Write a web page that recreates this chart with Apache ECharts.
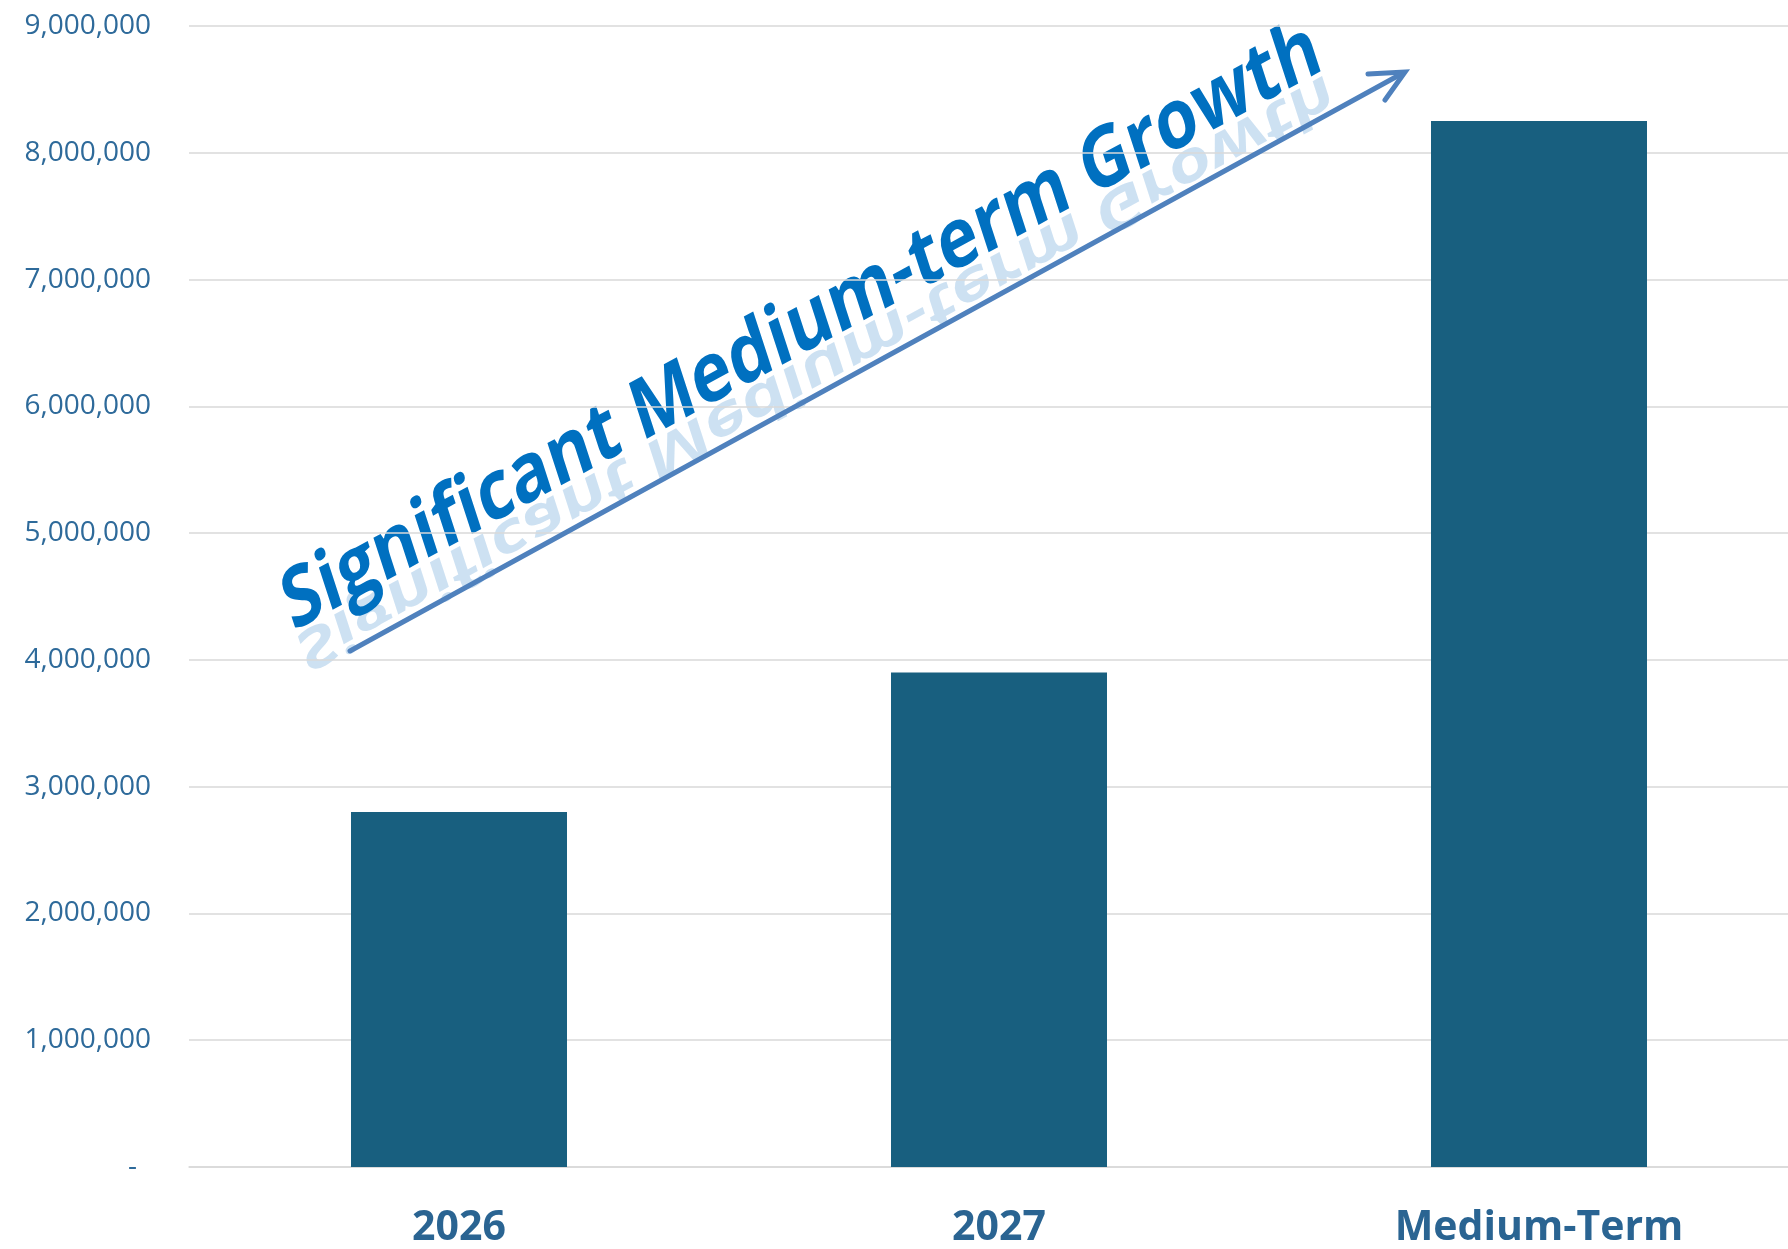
<!DOCTYPE html>
<html>
<head>
<meta charset="utf-8">
<script src="https://cdn.jsdelivr.net/npm/echarts@6/dist/echarts.min.js"></script>
<style>
html,body{margin:0;padding:0;background:#fff;overflow:hidden;width:1788px;height:1249px;}
#chart{width:1809px;height:1249px;}
</style>
</head>
<body>
<div id="chart"></div>
<script>
const categories = ['2026', '2027', 'Medium-Term'];
const values = [2800000, 3900000, 8250000];
const yTicks = [0, 1000000, 2000000, 3000000, 4000000, 5000000, 6000000, 7000000, 8000000, 9000000];
const annotationText = 'Significant Medium-term Growth';

const chart = echarts.init(document.getElementById('chart'), null, {renderer: 'canvas'});
const rot = 28.6 * Math.PI / 180;
const skew = Math.atan(-0.1871);
const fmt = v => v === 0 ? '{d|-}' : v.toLocaleString('en-US');
const textFont = 'bold 71.5px "Open Sans"';

chart.setOption({
  animation: false,
  backgroundColor: '#ffffff',
  grid: {left: 189, top: 26, right: 0, height: 1141, containLabel: false},
  xAxis: {
    type: 'category',
    data: categories,
    axisLine: {lineStyle: {color: '#D9D9D9', width: 1.5}},
    axisTick: {show: false},
    axisLabel: {
      color: '#2A6492', fontFamily: 'Open Sans', fontWeight: 'bold', fontSize: 41, margin: 41
    }
  },
  yAxis: {
    type: 'value',
    min: yTicks[0], max: yTicks[yTicks.length - 1], interval: yTicks[1] - yTicks[0],
    axisLine: {show: false},
    axisTick: {show: false},
    splitLine: {lineStyle: {color: '#D9D9D9', width: 1.5}},
    axisLabel: {
      formatter: fmt, color: '#2E6A9A', fontFamily: 'Open Sans', fontSize: 28, margin: 38,
      rich: {d: {color: '#2E6A9A', fontFamily: 'Open Sans', fontSize: 28, padding: [0, 14, 0, 0]}}
    }
  },
  series: [{
    type: 'bar',
    data: values,
    barWidth: '40%',
    itemStyle: {color: '#185F7F'}
  }],
  graphic: [
    {
      type: 'polyline', z: 10,
      shape: {points: [[350, 651], [1403, 73]]},
      style: {stroke: '#4F81BD', lineWidth: 5, lineCap: 'round'}
    },
    {
      type: 'polyline', z: 10,
      shape: {points: [[1368, 74], [1405, 72], [1385, 100]]},
      style: {stroke: '#4F81BD', lineWidth: 5, lineCap: 'round', lineJoin: 'miter', fill: null}
    },
    {
      type: 'group', x: 802, y: 328, rotation: rot, skewX: skew, scaleY: 1.12, z: 20,
      children: [
        {
          type: 'text', x: 0, y: 39, scaleY: -0.7,
          style: {text: annotationText, fill: '#5B9BD5', opacity: 0.3,
                  font: textFont, textAlign: 'center', textVerticalAlign: 'middle'}
        },
        {
          type: 'text', x: 0, y: 0,
          style: {text: annotationText, fill: '#0070C0',
                  font: textFont, textAlign: 'center', textVerticalAlign: 'middle'}
        }
      ]
    }
  ]
});
</script>
</body>
</html>
